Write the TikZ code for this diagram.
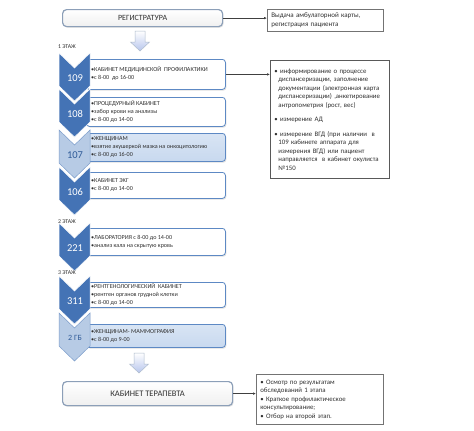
\documentclass[tikz,border=0pt]{standalone}
\usepackage{fontspec}
\setmainfont{Carlito}
\usetikzlibrary{shadows,arrows.meta}
\definecolor{dblue}{HTML}{4473B5}
\definecolor{lblue}{HTML}{B7CBE5}
\definecolor{lboxfill}{HTML}{C8D9EF}
\definecolor{bborder}{HTML}{5D89C4}
\definecolor{numdark}{HTML}{2F5B98}
\definecolor{gborder}{HTML}{8C9FB8}
\definecolor{txt}{HTML}{303030}
\newcommand{\mkrow}[7]{%
  \node[cbox#5, minimum width=139pt, minimum height=#3pt, anchor=north west] (b#1) at (86,#2) {};
  \path[chev#5] (59,#4) -- (74.5,#4+15) -- (90,#4) -- (90,#4+33) -- (74.5,#4+48) -- (59,#4+33) -- cycle;
  \node[num#5] (n#1) at (75,#4+25) {#6};
  \node[itemtxt, anchor=west] (t#1) at (91,#2+#3/2) {#7};
}
\begin{document}
\begin{tikzpicture}[x=1pt,y=-1pt,
  font=\fontsize{6.1}{8}\selectfont,
  cboxd/.style={draw=bborder, line width=0.8pt, fill=white, rounded corners=3pt,
     drop shadow={shadow xshift=1pt,shadow yshift=-1.2pt,opacity=0.25}},
  cboxl/.style={draw=bborder, line width=0.8pt, top color=lboxfill!70, bottom color=lboxfill, rounded corners=3pt,
     drop shadow={shadow xshift=1pt,shadow yshift=-1.2pt,opacity=0.25}},
  chevd/.style={fill=dblue, draw=white, line width=0.5pt},
  chevl/.style={fill=lblue, draw=dblue!70, line width=0.5pt},
  numd/.style={text=white, font=\fontsize{10.5}{12}\selectfont, inner sep=0pt},
  numl/.style={text=numdark, font=\fontsize{10.5}{12}\selectfont, inner sep=0pt},
  itemtxt/.style={align=left, inner sep=0pt, text=txt},
  gbox/.style={draw=gborder, line width=1.2pt, rounded corners=4pt, top color=white, bottom color=gray!12,
     drop shadow={shadow xshift=1pt,shadow yshift=-1.2pt,opacity=0.2}, text=txt, inner sep=0pt},
  rbox/.style={draw=black!55, line width=0.7pt, fill=white, align=left, text=txt, inner xsep=4pt, inner ysep=1pt,
     drop shadow={shadow xshift=1pt,shadow yshift=-1pt,opacity=0.2}},
  barrow/.style={top color=white, bottom color=lblue!90!blue!80!white, draw=gborder!70, line width=0.5pt},
  conn/.style={draw=black!75, line width=0.6pt, -{Latex[length=3pt,width=2.6pt]}},
  floor/.style={anchor=west, inner sep=0pt, text=txt, font=\fontsize{5.8}{7}\selectfont}
]
\useasboundingbox (0,0) rectangle (474,431);
\fill[white] (0,0) rectangle (474,431);

% top
\node[gbox, minimum width=160pt, minimum height=17pt, anchor=north west, font=\fontsize{8}{9}\selectfont] (reg) at (62,9) {РЕГИСТРАТУРА};
\node[rbox, anchor=north west, minimum width=116pt, minimum height=22pt, text width=108pt, font=\fontsize{7}{9.5}\selectfont] (vyd) at (267,9) {Выдача амбулаторной карты,\\регистрация пациента};
\draw[conn] (reg.east) -- (reg.east -| vyd.west);

\path[barrow] (135,31) -- (145,31) -- (145,42) -- (149.5,42) -- (140,51) -- (130.5,42) -- (135,42) -- cycle;

\node[floor] (f1) at (58,47) {1 ЭТАЖ};

\mkrow{109}{59}{30}{53}{d}{109}{•КАБИНЕТ МЕДИЦИНСКОЙ \ ПРОФИЛАКТИКИ\\•с 8-00 \ до 16-00}
\mkrow{108}{97}{29}{89}{d}{108}{•ПРОЦЕДУРНЫЙ КАБИНЕТ\\•забор крови на анализы\\•с 8-00 до 14-00}
\mkrow{107}{133}{28}{130}{l}{107}{•ЖЕНЩИНАМ\\•взятие акушеркой мазка на онкоцитологию\\•с 8-00 до 16-00}
\mkrow{106}{172}{26}{167}{d}{106}{•КАБИНЕТ ЭКГ\\•с 8-00 до 14-00}

\node[floor] (f2) at (58,222) {2 ЭТАЖ};
\mkrow{221}{228}{27}{223}{d}{221}{•ЛАБОРАТОРИЯ с 8-00 до 14-00\\•анализ кала на скрытую кровь}

\node[floor] (f3) at (58,273) {3 ЭТАЖ};
\mkrow{311}{282}{25}{276}{d}{311}{•РЕНТГЕНОЛОГИЧЕСКИЙ \ КАБИНЕТ\\•рентген органов грудной клетки\\•с 8-00 до 14-00}
\mkrow{2gb}{324}{23}{313}{l}{{\fontsize{8}{9}\selectfont 2 ГБ}}{•ЖЕНЩИНАМ- МАММОГРАФИЯ\\•с 8-00 до 9-00}

% info box
\node[rbox, anchor=north west, minimum width=119pt, minimum height=118pt, text width=111pt, draw=black!65, line width=0.9pt, font=\fontsize{6.8}{8.5}\selectfont] (info) at (270,60) {%
• информирование о процессе\\
\hspace*{4pt}диспансеризации, заполнение\\
\hspace*{4pt}документации (электронная карта\\
\hspace*{4pt}диспансеризации) ,анкетирование\\
\hspace*{4pt}антропометрия (рост, вес)\\[6pt]
• измерение АД\\[6pt]
• измерение ВГД (при наличии \ в\\
\hspace*{4pt}109 кабинете аппарата для\\
\hspace*{4pt}измерения ВГД) или пациент\\
\hspace*{4pt}направляется \ в кабинет окулиста\\
\hspace*{4pt}№150};
\draw[conn] (b109.east) -- (b109.east -| info.west);

\path[barrow] (134,353) -- (144,353) -- (144,364) -- (148.5,364) -- (139,373) -- (129.5,364) -- (134,364) -- cycle;

\node[gbox, minimum width=170pt, minimum height=24pt, anchor=north west, font=\fontsize{8.5}{10}\selectfont] (ter) at (62,381) {КАБИНЕТ ТЕРАПЕВТА};
\node[rbox, anchor=north west, minimum width=127pt, minimum height=50pt, text width=119pt, font=\fontsize{6.8}{8.5}\selectfont] (res) at (256,374) {%
• Осмотр по результатам\\
обследований 1 этапа\\
• Краткое профилактическое\\
консультирование;\\
• Отбор на второй этап.};
\draw[conn] (ter.east) -- (ter.east -| res.west);
\end{tikzpicture}
\end{document}
